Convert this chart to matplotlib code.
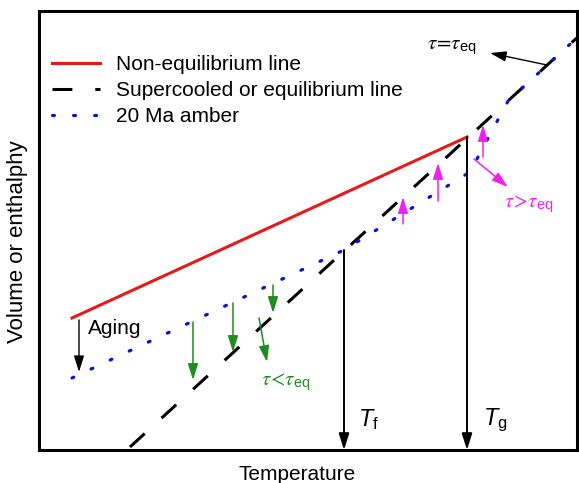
import matplotlib
matplotlib.use("Agg")
import matplotlib.pyplot as plt

plt.rcParams['font.family'] = ['Liberation Sans', 'DejaVu Sans']
plt.rcParams['mathtext.fontset'] = 'custom'
plt.rcParams['mathtext.rm'] = 'Liberation Sans'
plt.rcParams['mathtext.it'] = 'Liberation Sans:italic'
plt.rcParams['mathtext.sf'] = 'Liberation Sans'

noneq_T = [72, 467]
noneq_V = [165, 346]

equil_T = [130, 580]
equil_V = [36, 448]

amber_T = [72, 344, 470, 508, 580]
amber_V = [105, 233, 311, 382, 448]

T_f = 344
T_g = 467
V_f = 233
V_g = 346

# flèches (T départ, V départ, T arrivée, V arrivée)
aging_arrow = (79, 163, 79, 111)
green_arrows = [(193, 161, 193, 103), (233, 180, 233, 131), (273, 198, 273, 170)]
green_diag = (259, 165, 267, 121)
pink_arrows = [(403, 259, 403, 286), (438, 282, 438, 320), (483, 326, 483, 358)]
pink_diag = (474, 324, 508, 296)
eq_arrow = (547, 418, 490, 430)

RED = "#e41a1c"
BLUE = "#0a14c8"
GREEN = "#1e8c1e"
PINK = "#f020f0"

fig = plt.figure(figsize=(5.79, 4.83), dpi=100)
ax = fig.add_axes([39 / 579, 33 / 483, 538 / 579, 439 / 483])
ax.set_xlim(39, 577)
ax.set_ylim(33, 472)

ax.plot(noneq_T, noneq_V, color=RED, lw=2.2, label='Non-equilibrium line', zorder=3)
ax.plot(equil_T, equil_V, color='black', lw=2.2, dashes=(6.5, 7.5),
        label='Supercooled or equilibrium line', zorder=2)
ax.plot(amber_T, amber_V, color=BLUE, lw=2.3, dashes=(0.6, 6), dash_capstyle='round',
        label='20 Ma amber', zorder=4)


def fleche(a, color, lw=1.0, hl=0.7, hw=0.22, ms=14):
    ax.annotate('', xy=(a[2], a[3]), xytext=(a[0], a[1]),
                arrowprops=dict(arrowstyle=f'-|>,head_length={hl},head_width={hw}',
                                color=color, lw=lw, mutation_scale=ms,
                                shrinkA=0, shrinkB=0), zorder=5)


# Tf et Tg
fleche((T_f, V_f, T_f, 33), 'black', lw=1.4)
fleche((T_g, V_g, T_g, 33), 'black', lw=1.4)

fleche(aging_arrow, 'black', lw=1.0)
for a in green_arrows:
    fleche(a, GREEN, lw=1.1)
fleche(green_diag, GREEN, lw=1.1)
for a in pink_arrows:
    fleche(a, PINK, lw=1.1)
fleche(pink_diag, PINK, lw=1.1)
fleche(eq_arrow, 'black', lw=1.0)

ax.text(88, 155, 'Aging', fontsize=15, ha='left', va='center')
tau_kw = dict(fontsize=15, ha='left', va='center', math_fontfamily='stix')
ax.text(261, 101, r'$\tau\!<\!\tau_{\mathregular{eq}}$', color=GREEN, **tau_kw)
ax.text(504, 279, r'$\tau\!>\!\tau_{\mathregular{eq}}$', color=PINK, **tau_kw)
ax.text(427, 436, r'$\tau\!=\!\tau_{\mathregular{eq}}$', color='black', **tau_kw)
ax.text(358, 63, r'$T_{\mathrm{f}}$', fontsize=17, ha='left', va='center')
ax.text(483, 63, r'$T_{\mathrm{g}}$', fontsize=17, ha='left', va='center')

ax.set_xticks([])
ax.set_yticks([])
for s in ax.spines.values():
    s.set_linewidth(2.2)

fig.text(297 / 579, 1 - 474 / 483, 'Temperature', fontsize=15, ha='center', va='center')
fig.text(18 / 579, 1 - 242 / 483, 'Volume or enthalphy', fontsize=16, ha='center',
         va='center', rotation=90)

ax.legend(loc='upper left', bbox_to_anchor=(52 / 579, 1 - 55 / 483), bbox_transform=fig.transFigure,
          frameon=False, fontsize=15, handlelength=2.3, handletextpad=0.75,
          labelspacing=0.34, borderpad=0, borderaxespad=0)

fig.savefig('out.png', dpi=100)
